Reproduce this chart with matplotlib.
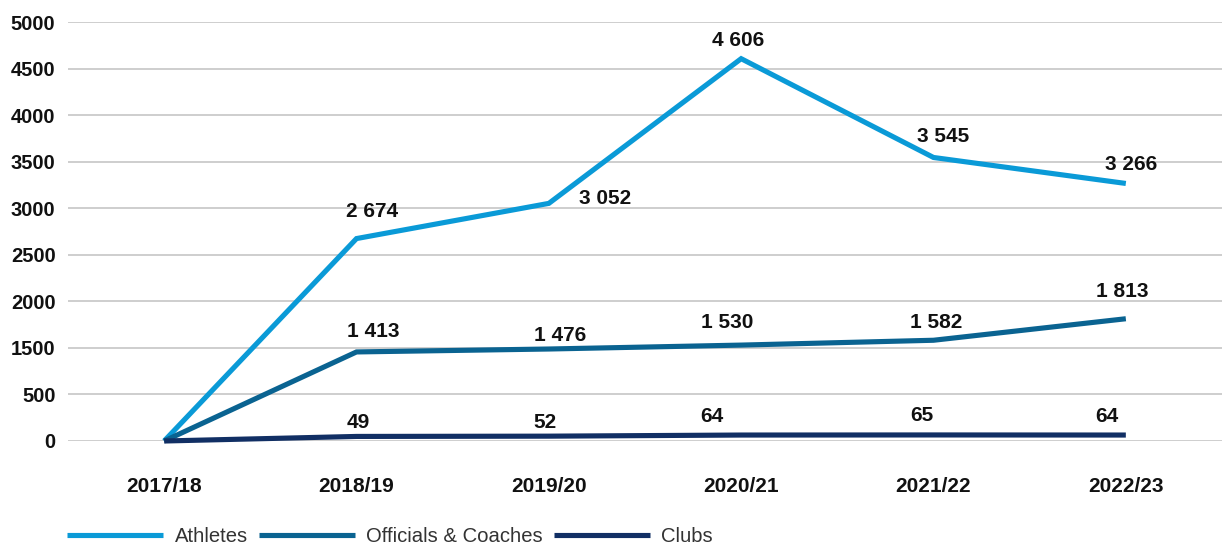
import matplotlib
matplotlib.use("Agg")
import matplotlib.pyplot as plt
import numpy as np

seasons = ["2017/18", "2018/19", "2019/20", "2020/21", "2021/22", "2022/23"]
athletes = [0, 2674, 3052, 4606, 3545, 3266]
officials = [0, 1413, 1476, 1530, 1582, 1813]
clubs = [0, 49, 52, 64, 65, 64]
athlete_labels = [None, "2 674", "3 052", "4 606", "3 545", "3 266"]
official_labels = [None, "1 413", "1 476", "1 530", "1 582", "1 813"]
club_labels = [None, "49", "52", "64", "65", "64"]
ytick_values = [0, 500, 1500, 2000, 2500, 3000, 3500, 4000, 4500, 5000]

# label offsets in pixels (layout only)
athlete_off = [None, (16, 27), (56, 5), (-3, 18), (10, 21), (5, 19)]
official_off = [None, (17, 20), (11, 14), (-14, 23), (3, 18), (-4, 27)]
club_off = [None, (2, 14), (-4, 14), (-29, 19), (-12, 19), (-19, 19)]

plt.rcParams['font.family'] = ['Liberation Sans', 'DejaVu Sans']

idx = np.arange(len(ytick_values), dtype=float)
tv = np.array(ytick_values, dtype=float)

def fwd(v):
    return np.interp(v, tv, idx)

def inv(s):
    return np.interp(s, idx, tv)

fig = plt.figure(figsize=(12.22, 5.49), dpi=100)
ax = fig.add_axes([68/1222, 108/549, 1 - 68/1222, 419/549])
ax.set_yscale('function', functions=(fwd, inv))

x = np.arange(len(seasons))
series = [
    ("Athletes", athletes, athlete_labels, athlete_off, "#0A9AD7"),
    ("Officials & Coaches", officials, official_labels, official_off, "#0A6391"),
    ("Clubs", clubs, club_labels, club_off, "#112F64"),
]
for name, vals, labs, offs, col in series:
    ax.plot(x, vals, color=col, lw=3.7, label=name, clip_on=False,
            solid_joinstyle='miter', solid_capstyle='butt', zorder=3)
    for xi, v, lab, off in zip(x, vals, labs, offs):
        if lab is None:
            continue
        ax.annotate(lab, (xi, v), xytext=off, textcoords='offset pixels',
                    ha='center', va='center', fontsize=15, fontweight='bold',
                    color='#111111', zorder=4)

ax.set_xlim(-0.5, 5.5)
ax.set_ylim(0, 5000)
ax.set_yticks(ytick_values)
ax.set_yticklabels([str(v) for v in ytick_values])
ax.set_xticks(x)
ax.set_xticklabels(seasons)
ax.tick_params(axis='y', length=0, labelsize=14.5, colors='#111111', pad=9)
ax.tick_params(axis='x', length=0, labelsize=15, colors='#111111', pad=26)
for t in ax.get_yticklabels() + ax.get_xticklabels():
    t.set_fontweight('bold')
ax.grid(axis='y', color='#C6C6C6', lw=1.2)
ax.set_axisbelow(True)
for s in ax.spines.values():
    s.set_visible(False)

fig.legend(loc='center left', bbox_to_anchor=(67/1222, 12/549), ncol=3,
           frameon=False, fontsize=14.6, handlelength=4.75, handletextpad=0.55,
           columnspacing=0.55, borderpad=0, borderaxespad=0,
           labelcolor='#333333')

fig.savefig("out.png", dpi=100)
